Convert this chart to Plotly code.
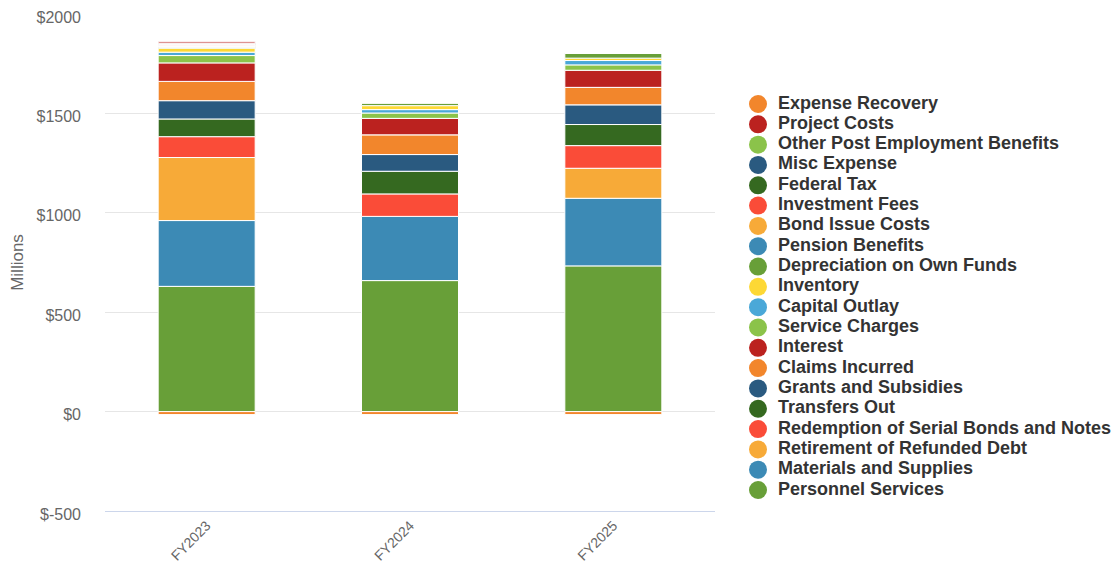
import plotly.graph_objects as go

years = ["FY2023", "FY2024", "FY2025"]

# series in stacking order (bottom -> top)
personnel_services = [630, 659, 733]
materials_supplies = [331, 323, 340]
retirement_refunded_debt = [317, 0, 151]
redemption_serial_bonds = [105, 113, 114]
transfers_out = [89, 114, 106]
grants_subsidies = [92, 84, 99]
claims_incurred = [97, 99, 88]
interest = [93, 83, 86]
service_charges = [37, 27, 27]
capital_outlay = [17, 17, 22]
inventory = [20, 20, 12]
depreciation_own_funds = [4, 15, 25]
pension_benefits = [4, 0, 0]
bond_issue_costs = [4, 0, 0]
investment_fees = [4, 0, 0]
federal_tax = [3, 0, 0]
misc_expense = [3, 0, 0]
other_post_employment = [3, 0, 0]
project_costs = [7, 0, 0]
expense_recovery = [-15, -15, -15]

series_names = [
    "Personnel Services", "Materials and Supplies", "Retirement of Refunded Debt",
    "Redemption of Serial Bonds and Notes", "Transfers Out", "Grants and Subsidies",
    "Claims Incurred", "Interest", "Service Charges", "Capital Outlay", "Inventory",
    "Depreciation on Own Funds", "Pension Benefits", "Bond Issue Costs",
    "Investment Fees", "Federal Tax", "Misc Expense", "Other Post Employment Benefits",
    "Project Costs", "Expense Recovery",
]
series_values = [
    personnel_services, materials_supplies, retirement_refunded_debt,
    redemption_serial_bonds, transfers_out, grants_subsidies, claims_incurred,
    interest, service_charges, capital_outlay, inventory, depreciation_own_funds,
    pension_benefits, bond_issue_costs, investment_fees, federal_tax, misc_expense,
    other_post_employment, project_costs, expense_recovery,
]
series_colors = [
    "#689f38", "#3c8ab5", "#f7aa38", "#fa4c38", "#356920", "#2a5a80",
    "#f2862c", "#bb221f", "#8bc34a", "#4aa8d8", "#fdd835", "#689f38",
    "#3c8ab5", "#f7aa38", "#fa4c38", "#356920", "#2a5a80", "#8bc34a",
    "#bb221f", "#f2862c",
]

y_tickvals = [-500, 0, 500, 1000, 1500, 2000]
y_ticktext = ["$-500", "$0", "$500", "$1000", "$1500", "$2000"]

font_family = "Liberation Sans, Arial, sans-serif"

fig = go.Figure()
for name, vals, col in zip(series_names, series_values, series_colors):
    fig.add_trace(go.Bar(
        x=years, y=vals, name=name,
        marker=dict(color=col, line=dict(color="#ffffff", width=1)),
        showlegend=False,
    ))

# legend drawn on its own hidden axes (one row per series, top = last series)
legend_rows = list(range(len(series_names)))
fig.add_trace(go.Scatter(
    x=[10] * len(series_names), y=legend_rows, mode="markers",
    marker=dict(color=series_colors, size=18, line=dict(width=0)),
    xaxis="x2", yaxis="y2", showlegend=False, hoverinfo="skip", cliponaxis=False,
))
fig.add_trace(go.Scatter(
    x=[30] * len(series_names), y=legend_rows, mode="text",
    text=series_names, textposition="middle right",
    textfont=dict(family=font_family, size=18, color="#333333", weight="bold"),
    xaxis="x2", yaxis="y2", showlegend=False, hoverinfo="skip", cliponaxis=False,
))

fig.update_layout(
    width=1120, height=577,
    barmode="relative",
    bargap=0.523,
    showlegend=False,
    paper_bgcolor="#ffffff", plot_bgcolor="#ffffff",
    margin=dict(l=97, r=13, t=6, b=74),
    font=dict(family=font_family, color="#666666", size=13),
    xaxis=dict(
        domain=[0, 610 / 1010],
        type="category", showline=True, linecolor="#ccd6eb", linewidth=1,
        showgrid=False, ticks="", tickangle=-45, automargin=False,
        tickfont=dict(size=14, color="#666666"), ticklabeloverflow="allow",
    ),
    yaxis=dict(
        range=[-500, 2000], tickvals=y_tickvals, ticktext=y_ticktext,
        showgrid=True, gridcolor="#e6e6e6", gridwidth=1, zeroline=False,
        showline=False, ticks="", ticklabelstandoff=23, automargin=False,
        ticklabeloverflow="allow", ticklabelshift=3,
        tickfont=dict(size=16, color="#666666"),
        title=dict(text="Millions", font=dict(size=17, color="#666666"), standoff=10),
    ),
    xaxis2=dict(
        domain=[(748 - 105) / 1010, 1], range=[0, 367], anchor="y2",
        visible=False, fixedrange=True,
    ),
    yaxis2=dict(
        domain=[0, 1], range=[-1.033, 23.43], anchor="x2",
        visible=False, fixedrange=True,
    ),
)

fig.write_html("out.html")
